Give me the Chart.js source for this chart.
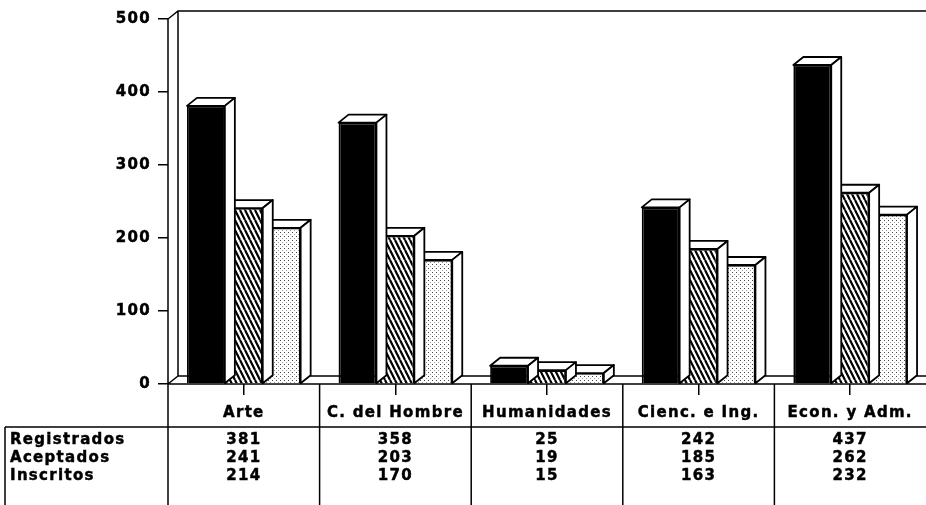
<!DOCTYPE html>
<html>
<head>
<meta charset="utf-8">
<script src="https://cdn.jsdelivr.net/npm/chart.js@4/dist/chart.umd.min.js"></script>
<style>
  html, body { margin: 0; padding: 0; background: #fff; }
</style>
</head>
<body>
<canvas id="chart" width="926" height="505"></canvas>
<script>
// enrolment figures per faculty
const categories = ['Arte', 'C. del Hombre', 'Humanidades', 'Cienc. e Ing.', 'Econ. y Adm.'];
const seriesNames = ['Registrados', 'Aceptados', 'Inscritos'];
const registrados = [381, 358, 25, 242, 437];
const aceptados = [241, 203, 19, 185, 262];
const inscritos = [214, 170, 15, 163, 232];
const yTicks = [0, 100, 200, 300, 400, 500];

const FONT_FAMILY = '"DejaVu Sans", Arial, sans-serif';
const FONT_SIZE = 15;
const SPACING = '1.3px';
const STROKE = 0.45;
const DX = 10, DY = 8;   // depth offset of the 3D boxes

var canvas = document.getElementById('chart');
var ctx = canvas.getContext('2d');

function hatchPattern() {
    var tile = document.createElement('canvas');
    tile.width = 5; tile.height = 10;
    var g = tile.getContext('2d');
    g.fillStyle = '#fff';
    g.fillRect(0, 0, 5, 10);
    g.strokeStyle = '#000';
    g.lineWidth = 2.2;
    g.beginPath();
    [-5, 0, 5].forEach(function(off) {
        g.moveTo(off, 0);
        g.lineTo(off + 5, 10);
    });
    g.stroke();
    return ctx.createPattern(tile, 'repeat');
}

function dotPattern() {
    var tile = document.createElement('canvas');
    tile.width = 4; tile.height = 4;
    var g = tile.getContext('2d');
    g.fillStyle = '#fff';
    g.fillRect(0, 0, 4, 4);
    g.fillStyle = '#444';
    g.fillRect(0, 0, 1, 1);
    g.fillStyle = '#999';
    g.fillRect(2, 2, 1, 1);
    return ctx.createPattern(tile, 'repeat');
}

var box3d = {
    id: 'box3d',
    beforeDraw: function(chart) {
        chart.ctx.letterSpacing = SPACING;
    },
    beforeDatasetsDraw: function(chart) {
        var c = chart.ctx, a = chart.chartArea;
        c.save();
        c.strokeStyle = '#000';
        c.lineWidth = 1.5;
        c.beginPath();
        // back wall
        c.moveTo(a.left, a.bottom);
        c.lineTo(a.left, a.top);
        c.lineTo(a.left + DX, a.top - DY);
        c.lineTo(chart.width, a.top - DY);
        c.moveTo(a.left + DX, a.top - DY);
        c.lineTo(a.left + DX, a.bottom - DY);
        c.lineTo(chart.width, a.bottom - DY);
        // floor
        c.moveTo(a.left, a.bottom);
        c.lineTo(a.left + DX, a.bottom - DY);
        c.moveTo(a.left, a.bottom);
        c.lineTo(chart.width, a.bottom);
        c.stroke();
        c.restore();
    },
    afterDatasetDraw: function(chart, args) {
        var c = chart.ctx;
        c.save();
        c.strokeStyle = '#000';
        c.lineWidth = 1.8;
        c.lineJoin = 'round';
        c.fillStyle = '#fff';
        args.meta.data.forEach(function(bar) {
            var p = bar.getProps(['x', 'y', 'base', 'width'], true);
            var l = p.x - p.width / 2, r = p.x + p.width / 2;
            // top face
            c.beginPath();
            c.moveTo(l, p.y);
            c.lineTo(l + DX, p.y - DY);
            c.lineTo(r + DX, p.y - DY);
            c.lineTo(r, p.y);
            c.closePath();
            c.fill();
            c.stroke();
            // right side
            c.beginPath();
            c.moveTo(r, p.y);
            c.lineTo(r + DX, p.y - DY);
            c.lineTo(r + DX, p.base - DY);
            c.lineTo(r, p.base);
            c.closePath();
            c.fill();
            c.stroke();
        });
        c.restore();
    },
    afterDraw: function(chart) {
        var c = chart.ctx, a = chart.chartArea, xs = chart.scales.x;
        var rows = [registrados, aceptados, inscritos];
        var rowY = [440, 458, 476];
        var lineY = 427;
        var step = (a.right - a.left) / categories.length;
        c.save();
        c.strokeStyle = '#000';
        c.lineWidth = 1.5;
        c.beginPath();
        c.moveTo(5, lineY);
        c.lineTo(chart.width, lineY);
        c.moveTo(5, lineY);
        c.lineTo(5, chart.height);
        for (var i = 0; i < categories.length; i++) {
            var bx = xs.getPixelForValue(i) - step / 2;
            c.moveTo(bx, a.bottom);
            c.lineTo(bx, chart.height);
        }
        c.stroke();

        c.fillStyle = '#000';
        c.lineWidth = STROKE;
        c.font = 'bold ' + FONT_SIZE + 'px ' + FONT_FAMILY;
        c.letterSpacing = SPACING;
        c.textBaseline = 'middle';
        function text(s, x, y) {
            c.fillText(s, x, y);
            c.strokeText(s, x, y);
        }
        seriesNames.forEach(function(name, r) {
            c.textAlign = 'left';
            text(name, 10, rowY[r]);
            c.textAlign = 'center';
            rows[r].forEach(function(v, i) {
                text(String(v), xs.getPixelForValue(i), rowY[r]);
            });
        });
        c.restore();
    }
};

var tickFont = { family: FONT_FAMILY, size: FONT_SIZE, weight: 'bold' };

var chart = new Chart(ctx, {
    type: 'bar',
    data: {
        labels: categories,
        datasets: [
            { label: seriesNames[0], data: registrados, backgroundColor: '#000' },
            { label: seriesNames[1], data: aceptados, backgroundColor: hatchPattern() },
            { label: seriesNames[2], data: inscritos, backgroundColor: dotPattern() }
        ].map(function(ds) {
            ds.borderColor = '#000';
            ds.borderWidth = 1.8;
            ds.categoryPercentage = 0.75;
            ds.barPercentage = 1.0;
            return ds;
        })
    },
    options: {
        responsive: false,
        devicePixelRatio: 1,
        animation: false,
        layout: { padding: { top: 19, right: 0, bottom: 0, left: 0 } },
        plugins: {
            legend: { display: false },
            tooltip: { enabled: false }
        },
        scales: {
            x: {
                grid: {
                    offset: false,
                    drawOnChartArea: false,
                    drawTicks: true,
                    tickLength: 11,
                    color: '#000',
                    lineWidth: 1.5
                },
                border: { display: false },
                ticks: {
                    color: '#000',
                    textStrokeColor: '#000',
                    textStrokeWidth: STROKE,
                    padding: 9,
                    maxRotation: 0,
                    font: tickFont
                },
                afterFit: function(scale) { scale.height = 121; }
            },
            y: {
                min: 0,
                max: 500,
                afterBuildTicks: function(scale) {
                    scale.ticks = yTicks.map(function(v) { return { value: v }; });
                },
                grid: {
                    drawOnChartArea: false,
                    drawTicks: true,
                    tickLength: 10,
                    color: '#000',
                    lineWidth: 1.5
                },
                border: { display: false },
                ticks: {
                    color: '#000',
                    textStrokeColor: '#000',
                    textStrokeWidth: STROKE,
                    padding: 7,
                    font: tickFont
                },
                afterFit: function(scale) { scale.width = 168; }
            }
        }
    },
    plugins: [box3d]
});
</script>
</body>
</html>
